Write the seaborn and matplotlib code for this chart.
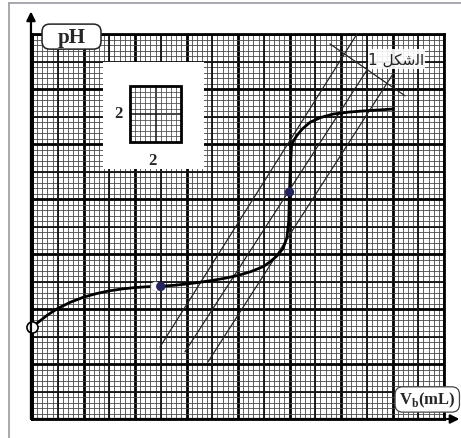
import numpy as np
import pandas as pd
import seaborn as sns
import matplotlib
matplotlib.use("Agg")
import matplotlib.pyplot as plt
from matplotlib.patches import Rectangle, FancyBboxPatch
from matplotlib.lines import Line2D

# Titration curve: pH versus added base volume V_b (mL)
vb_ml = [0.0, 0.3, 0.6, 1.0, 1.5, 2.0, 2.5, 3.0, 3.5, 4.0, 4.5, 5.0, 5.5, 6.0,
         6.5, 7.0, 7.5, 8.0, 8.5, 9.0, 9.25, 9.5, 9.75, 9.9, 9.97, 10.0,
         10.04, 10.08, 10.16, 10.28, 10.5, 10.8, 11.2, 11.7, 12.3, 12.85, 14.0]
ph = [3.35, 3.56, 3.78, 4.02, 4.25, 4.43, 4.56, 4.66, 4.73, 4.78, 4.81, 4.83,
      4.86, 4.91, 4.97, 5.04, 5.12, 5.22, 5.36, 5.55, 5.72, 5.92, 6.2, 6.6,
      7.2, 8.25, 9.3, 9.94, 10.12, 10.3, 10.55, 10.79, 10.96, 11.09, 11.16,
      11.2, 11.27]

start_v, start_ph = [0.0], [3.35]
half_v, half_ph = [5.0], [4.82]
equiv_v, equiv_ph = [10.0], [8.25]

# three parallel tangents and the crossing line
tangent_v0 = [4.97, 5.94, 6.83]
tangent_ph0 = [2.62, 2.44, 2.07]
tangent_v1 = [12.62, 13.05, 14.02]
tangent_ph1 = [14.0, 12.75, 12.55]
normal_v = [11.57, 14.49]
normal_ph = [13.64, 11.75]

# axis extent and scale square (2 mL x 2 pH per big square)
x_max, y_max = 16, 14
scale_x_label, scale_y_label = "2", "2"
y_label = "pH"
x_label = r"$\mathbf{V}_{\mathbf{b}}$" + "(mL)"
# "الشكل 1" written with Arabic presentation forms in visual order
fig_label = "1 \uFEDE\uFEDC\uFEB7\uFEDF\uFE8D"

sns.set_theme(style="white")
plt.rcParams["mathtext.fontset"] = "custom"
plt.rcParams["mathtext.bf"] = "Liberation Serif:bold"
plt.rcParams["mathtext.rm"] = "Liberation Serif:bold"
plt.rcParams["font.family"] = ["Liberation Serif", "DejaVu Sans"]

W, H = 461, 439
fig = plt.figure(figsize=(W / 100, H / 100), dpi=100)
fig.patch.set_facecolor("white")
ax = fig.add_axes([32 / W, 19 / H, 412 / W, 385 / H])
ax.set_xlim(0, x_max)
ax.set_ylim(0, y_max)

# graph paper
ax.set_xticks(np.arange(0, x_max + 0.01, 2))
ax.set_yticks(np.arange(0, y_max + 0.01, 2))
ax.set_xticks(np.arange(0, x_max + 0.01, 0.2), minor=True)
ax.set_yticks(np.arange(0, y_max + 0.01, 0.2), minor=True)
ax.grid(which="minor", color="#484848", lw=0.6)
ax.grid(which="major", color="black", lw=2.0)
ax.vlines(np.arange(1, x_max, 2), 0, y_max, color="#111111", lw=1.3, zorder=1.6)
ax.hlines(np.arange(1, y_max, 2), 0, x_max, color="#111111", lw=1.3, zorder=1.6)
ax.tick_params(which="both", length=0, labelbottom=False, labelleft=False)
for s in ax.spines.values():
    s.set_color("black")
    s.set_linewidth(2.0)

# tangent construction
for v0, p0, v1, p1 in zip(tangent_v0, tangent_ph0, tangent_v1, tangent_ph1):
    ax.plot([v0, v1], [p0, p1], color="#262626", lw=0.9, zorder=3, clip_on=False)
ax.plot(normal_v, normal_ph, color="#262626", lw=0.9, zorder=3)

# titration curve
df = pd.DataFrame({"Vb": vb_ml, "pH": ph})
sns.lineplot(data=df, x="Vb", y="pH", ax=ax, color="black", lw=2.0,
             sort=False, estimator=None, zorder=4)
ax.set_xlabel("")
ax.set_ylabel("")

ax.plot(start_v, start_ph, "o", ms=8, mfc="white", mec="black", mew=1.2,
        zorder=6, clip_on=False)
ax.plot([4.78], [4.84], "o", ms=6.5, mfc="white", mec="#dddddd", mew=0.5, zorder=6)
sns.scatterplot(x=half_v, y=half_ph, ax=ax, s=45, color="#23235e",
                edgecolor="none", zorder=7)
sns.scatterplot(x=equiv_v, y=equiv_ph, ax=ax, s=45, color="#23235e",
                edgecolor="none", zorder=7)

# scale square inset
ax.add_patch(Rectangle((2.76, 9.09), 3.92, 3.89, fc="white", ec="none", zorder=8))
sx0, sy0, sw, sh = 3.8, 10.07, 2.0, 2.03
for k in range(1, 10):
    lw = 1.1 if k == 5 else 0.55
    c = "#111111" if k == 5 else "#484848"
    ax.plot([sx0 + sw * k / 10] * 2, [sy0, sy0 + sh], color=c, lw=lw, zorder=9)
    ax.plot([sx0, sx0 + sw], [sy0 + sh * k / 10] * 2, color=c, lw=lw, zorder=9)
ax.add_patch(Rectangle((sx0, sy0), sw, sh, fc="none", ec="black", lw=2.0, zorder=10))
ax.text(3.34, 11.12, scale_y_label, ha="center", va="center", fontsize=12,
        fontweight="bold", zorder=10)
ax.text(4.68, 9.42, scale_x_label, ha="center", va="center", fontsize=12,
        fontweight="bold", zorder=10)

# figure label
ax.add_patch(Rectangle((13.05, 12.73), 2.2, 0.72, fc="white", ec="none",
                       alpha=0.9, zorder=8))
ax.text(14.15, 13.08, fig_label, ha="center", va="center", fontsize=11,
        family=["DejaVu Sans"], color="#222222", zorder=9)

# axis arrows
arrow = dict(arrowstyle="-|>", color="black", lw=1.6, mutation_scale=13,
             shrinkA=0, shrinkB=0)
ax.annotate("", xy=(x_max + 0.6, 0), xytext=(0, 0), arrowprops=arrow,
            annotation_clip=False, zorder=11)
ax.annotate("", xy=(-0.04, y_max + 0.82), xytext=(-0.04, 0), arrowprops=arrow,
            annotation_clip=False, zorder=11)

# axis name boxes
ax.add_patch(FancyBboxPatch((0.39, 13.45), 2.29, 0.91,
                            boxstyle="round,pad=0,rounding_size=0.3",
                            mutation_aspect=0.93, fc="white", ec="#222222",
                            lw=1.1, zorder=12, clip_on=False))
ax.text(1.53, 13.88, y_label, ha="center", va="center", fontsize=15,
        fontweight="bold", zorder=13, clip_on=False)
ax.add_patch(FancyBboxPatch((14.1, 0.25), 2.5, 0.92,
                            boxstyle="round,pad=0,rounding_size=0.3",
                            mutation_aspect=0.93, fc="white", ec="#444444",
                            lw=0.9, zorder=12, clip_on=False))
ax.text(15.35, 0.72, x_label, ha="center", va="center", fontsize=12,
        fontweight="bold", zorder=13, clip_on=False)

# page frame
fig.add_artist(Line2D([9 / W, 9 / W], [0, 1 - 4 / H], color="#9a9aa4", lw=1.2))
fig.add_artist(Line2D([9 / W, 1], [1 - 4 / H, 1 - 4 / H], color="#9a9aa4", lw=1.2))

fig.savefig("out.png", dpi=100)
